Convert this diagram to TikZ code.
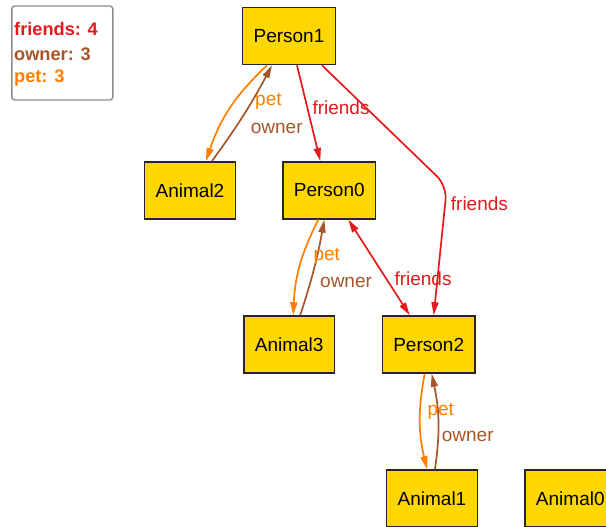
\documentclass[tikz,border=0pt]{standalone}
\usepackage{fontspec}
\setmainfont{Liberation Sans}
\usetikzlibrary{arrows.meta}
\definecolor{fred}{HTML}{E41A1C}
\definecolor{fbrown}{HTML}{A65628}
\definecolor{fforange}{HTML}{FF7F00}
\colorlet{forange}{fforange}
\definecolor{fgold}{HTML}{FFD700}
\tikzset{
  sig/.style={draw=black!85, line width=1.6pt, fill=fgold, minimum height=57pt,
    inner xsep=11pt, inner ysep=0pt, font=\fontsize{19}{22}\selectfont},
  rel/.style={line width=1.7pt, -{Triangle[length=13pt,width=7pt]}},
  relred/.style={rel, draw=fred, {Triangle[length=13pt,width=7pt]}-{Triangle[length=13pt,width=7pt]}},
  lbl/.style={inner sep=0pt, anchor=base west, font=\fontsize{19}{22}\selectfont},
  leg/.style={inner sep=0pt, anchor=base west, font=\fontsize{18.2}{22}\selectfont\bfseries},
}
\begin{document}
\begin{tikzpicture}[x=1pt,y=-1pt]
\useasboundingbox (0,0) rectangle (606,527);
\clip (0,0) rectangle (606,527);
\fill[white] (0,0) rectangle (606,527);
% legend
\node[draw=black!45, line width=1.4pt, rounded corners=3pt, minimum width=101pt, minimum height=94pt, inner sep=0pt] (legend) at (62.3,53) {};
\node[leg, text=fred] (lf) at (14,35.5) {friends: 4};
\node[leg, text=fbrown] (lo) at (14,60.8) {owner: 3};
\node[leg, text=forange] (lp) at (14,83) {pet: 3};
% nodes
\node[sig] (P1) at (289,36) {Person1};
\node[sig] (A2) at (190,190.3) {Animal2};
\node[sig] (P0) at (329.3,190.3) {Person0};
\node[sig] (A3) at (289.2,344.5) {Animal3};
\node[sig] (P2) at (428.7,344.5) {Person2};
\node[sig] (A1) at (432,498.5) {Animal1};
\node[sig] (A0) at (570.3,498.5) {Animal0};
\coordinate (w) at (447,186);
% edges
\draw[rel, draw=forange, forange] ([xshift=-22pt]P1.south) to[bend right=14] ([xshift=16pt]A2.north);
\draw[rel, draw=fbrown, fbrown] ([xshift=22pt]A2.north) to[bend right=4] ([xshift=-17pt]P1.south);
\draw[rel, draw=fred, fred] ([xshift=8pt]P1.south) -- ([xshift=-9pt]P0.north);
\draw[rel, draw=fred, fred, rounded corners=14pt] ([xshift=33pt]P1.south) -- (w) -- ([xshift=5pt]P2.north);
\draw[relred, fred] ([xshift=19pt]P0.south) -- ([xshift=-19pt]P2.north);
\draw[rel, draw=forange, forange] ([xshift=-11pt]P0.south) to[bend right=12] ([xshift=4pt]A3.north);
\draw[rel, draw=fbrown, fbrown] ([xshift=11pt]A3.north) to[bend right=4] ([xshift=-5pt]P0.south);
\draw[rel, draw=forange, forange] ([xshift=-4pt]P2.south) to[bend right=12] ([xshift=-5pt]A1.north);
\draw[rel, draw=fbrown, fbrown] ([xshift=3pt]A1.north) to[bend right=10] ([xshift=3pt]P2.south);
% labels
\node[lbl, text=forange] (l1) at (255,106) {pet};
\node[lbl, text=fbrown] (l2) at (250.7,133.3) {owner};
\node[lbl, text=fred] (l3) at (312.3,114) {friends};
\node[lbl, text=fred] (l4) at (450.7,210.7) {friends};
\node[lbl, text=fred] (l5) at (394.3,285) {friends};
\node[lbl, text=forange] (l6) at (313.3,260.7) {pet};
\node[lbl, text=fbrown] (l7) at (320,287.3) {owner};
\node[lbl, text=forange] (l8) at (427.3,415) {pet};
\node[lbl, text=fbrown] (l9) at (441.7,441.7) {owner};
\end{tikzpicture}
\end{document}
